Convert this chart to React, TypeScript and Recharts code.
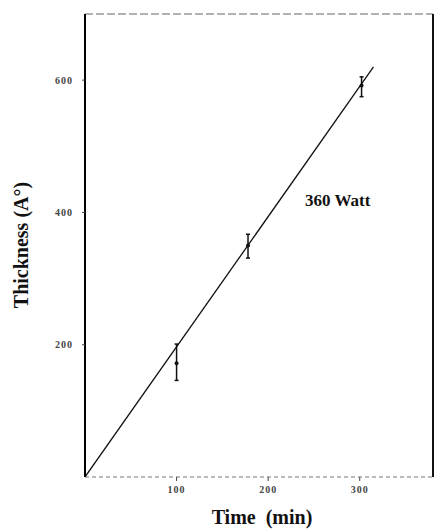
import {
  ComposedChart, Line, Scatter, XAxis, YAxis, ErrorBar, ReferenceLine
} from 'recharts'

// fitted line (min, Å)
const fitTime = [0, 315]
const fitThickness = [0, 620]

// measured points with error bars [below, above]
const pointTime = [100, 178, 302]
const pointThickness = [172, 350, 592]
const pointErrLow = [26, 19, 17]
const pointErrHigh = [29, 17, 13]

const xTicks = [100, 200, 300]
const yTicks = [200, 400, 600]

const fitData = fitTime.map((t, i) => ({ t, y: fitThickness[i] }))
const pointData = pointTime.map((t, i) => ({
  t,
  y: pointThickness[i],
  err: [pointErrLow[i], pointErrHigh[i]],
}))

const serif = '"Liberation Serif", "DejaVu Serif", serif'
const tickStyle = { fontSize: 10, fill: '#444', fontFamily: serif, fontWeight: 700, letterSpacing: 1 }

export default function App() {
  return (
    <div style={{ position: 'absolute', left: 0, top: 0, width: 436, height: 532, background: '#fff' }}>
      <ComposedChart width={436} height={532} margin={{ top: 14, right: 3, bottom: 25, left: 0 }}>
        <XAxis
          type="number"
          dataKey="t"
          domain={[0, 380]}
          ticks={xTicks}
          allowDataOverflow
          tick={tickStyle}
          tickSize={4}
          tickMargin={5}
          height={30}
          axisLine={{ stroke: '#777', strokeWidth: 1.2, strokeDasharray: '4 3' }}
          tickLine={{ stroke: '#444' }}
        />
        <YAxis
          type="number"
          dataKey="y"
          domain={[0, 700]}
          ticks={yTicks}
          allowDataOverflow
          tick={tickStyle}
          tickSize={3}
          tickMargin={9}
          width={85}
          axisLine={{ stroke: '#000', strokeWidth: 2 }}
          tickLine={{ stroke: '#444' }}
        />
        <ReferenceLine y={700} stroke="#666" strokeWidth={1.2} strokeDasharray="8 3" />
        <ReferenceLine x={380} stroke="#111" strokeWidth={2} />
        <Line
          data={fitData}
          dataKey="y"
          type="linear"
          stroke="#111"
          strokeWidth={1.3}
          dot={false}
          isAnimationActive={false}
        />
        <Scatter
          data={pointData}
          dataKey="y"
          fill="#111"
          shape={(p: any) => <circle cx={p.cx} cy={p.cy} r={2} fill="#111" />}
          isAnimationActive={false}
        >
          <ErrorBar dataKey="err" direction="y" width={2} stroke="#111" strokeWidth={1.5} isAnimationActive={false} />
        </Scatter>
      </ComposedChart>
      <div
        style={{
          position: 'absolute', left: 21, top: 245, transform: 'translate(-50%, -50%) rotate(-90deg)',
          whiteSpace: 'nowrap', fontFamily: serif, fontWeight: 700, fontSize: 20, color: '#111',
        }}
      >
        Thickness (A°)
      </div>
      <div
        style={{
          position: 'absolute', left: 262, top: 517, transform: 'translate(-50%, -50%)',
          whiteSpace: 'pre', fontFamily: serif, fontWeight: 700, fontSize: 20, color: '#111',
        }}
      >
        Time  (min)
      </div>
      <div
        style={{
          position: 'absolute', left: 305, top: 191,
          whiteSpace: 'nowrap', fontFamily: serif, fontWeight: 700, fontSize: 17, color: '#111',
        }}
      >
        360 Watt
      </div>
    </div>
  )
}
